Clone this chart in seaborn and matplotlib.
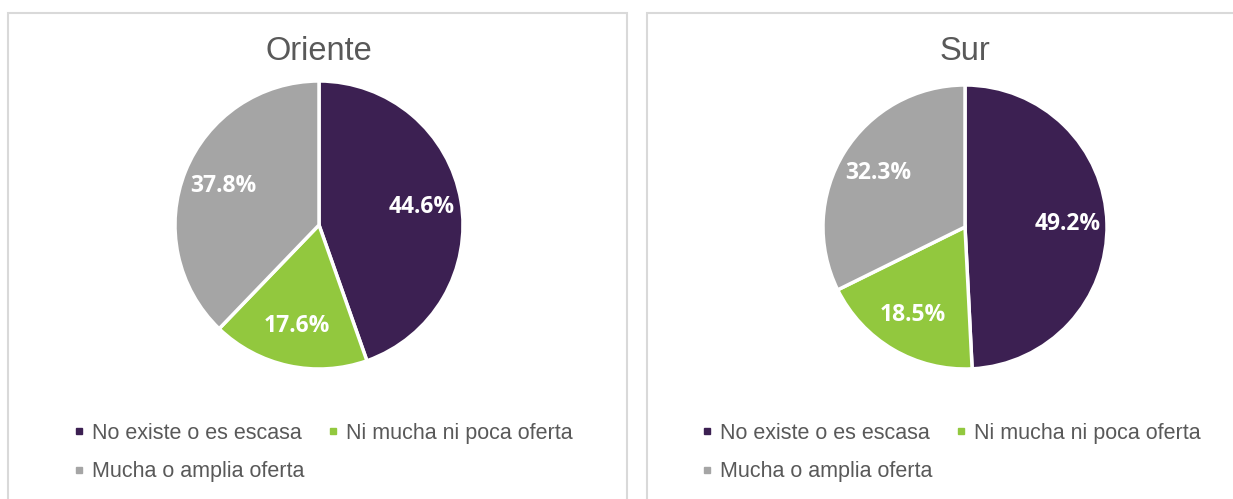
import matplotlib.pyplot as plt
import seaborn as sns
from matplotlib.lines import Line2D
from matplotlib.patches import Rectangle

# datos
categorias = ['No existe o es escasa', 'Ni mucha ni poca oferta', 'Mucha o amplia oferta']
oriente = [44.6, 17.6, 37.8]
sur = [49.2, 18.5, 32.3]
titulos = ['Oriente', 'Sur']

sns.set_theme(style='white')
plt.rcParams['font.family'] = ['Liberation Sans', 'DejaVu Sans']
colores = sns.color_palette(['#3C2052', '#92C83E', '#A5A5A5'])

W, H = 1233, 499
fig = plt.figure(figsize=(W / 100, H / 100), dpi=100)

# marcos de los paneles
for x0, x1 in [(7.5, 627), (647, 1240)]:
    fig.patches.append(Rectangle((x0 / W, -0.1), (x1 - x0) / W, 1.1 - 13.5 / H,
                                 transform=fig.transFigure, fill=False,
                                 edgecolor='#D9D9D9', linewidth=1.5))

# centro y radio de cada pastel (pixeles)
pos = [(319, 225, 144), (965, 227, 142)]
leyenda_x = [73, 701]

for valores, titulo, (cx, cy, r), lx in zip([oriente, sur], titulos, pos, leyenda_x):
    ax = fig.add_axes([(cx - r) / W, (H - cy - r) / H, 2 * r / W, 2 * r / H])
    wedges, textos, pct = ax.pie(valores, colors=colores, startangle=90, counterclock=False,
                                 autopct='%.1f%%', pctdistance=0.72,
                                 wedgeprops=dict(edgecolor='white', linewidth=2.5),
                                 textprops=dict(color='white', fontsize=16.5, fontweight='bold',
                                                family=['Open Sans', 'DejaVu Sans']))
    ax.set_xlim(-1, 1)
    ax.set_ylim(-1, 1)
    ax.axis('off')
    fig.text(cx / W, 1 - 51 / H, titulo, ha='center', va='center', fontsize=23.5, color='#595959')

    handles = [Line2D([], [], marker='s', linestyle='', color=c, markersize=5) for c in colores]
    orden = [0, 2, 1]
    fig.legend([handles[i] for i in orden], [categorias[i] for i in orden],
               loc='upper left', bbox_to_anchor=(lx / W, 1 - 423 / H), ncol=2, frameon=False,
               fontsize=15.5, labelcolor='#595959', handlelength=0.6, handletextpad=0.3,
               columnspacing=1.0, labelspacing=0.8, borderpad=0, borderaxespad=0)

fig.savefig('out.png', dpi=100, facecolor='white')
